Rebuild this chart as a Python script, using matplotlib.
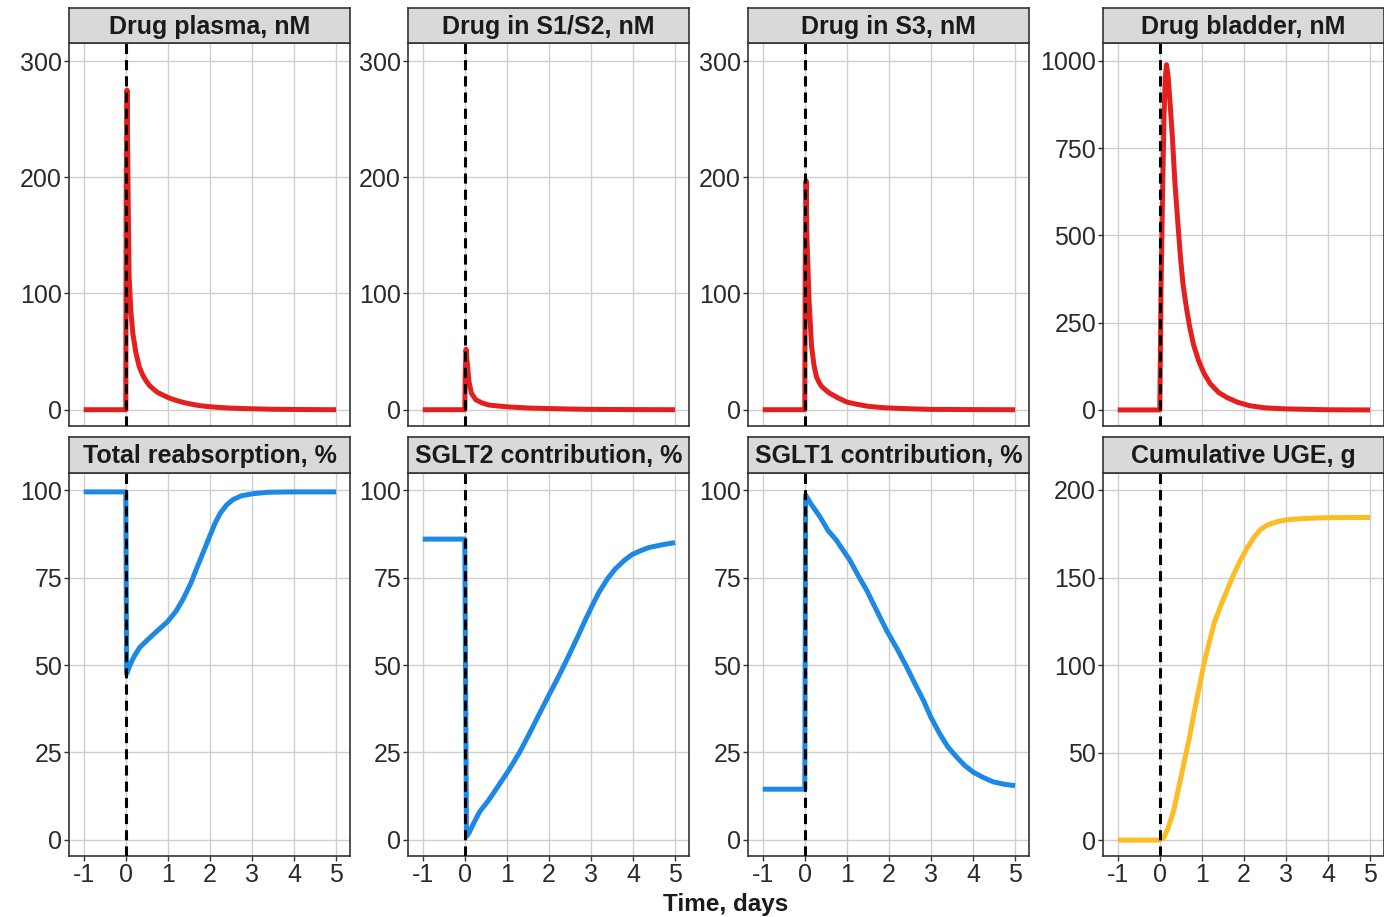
import matplotlib
matplotlib.use('Agg')
import matplotlib.pyplot as plt

plt.rcParams['font.family'] = ['Liberation Sans', 'DejaVu Sans']
plt.rcParams['axes.unicode_minus'] = False

# --- data (time in days) ---
t_plasma = [-1, 0, 0.01, 0.03, 0.06, 0.08, 0.12, 0.17, 0.24, 0.32, 0.4, 0.48, 0.56, 0.65, 0.75, 0.9, 1.04, 1.2,
            1.4, 1.6, 1.76, 2.0, 2.2, 2.5, 2.8, 3.5, 4.2, 5]
plasma = [0, 0, 190, 275, 170, 114, 85, 65, 49, 37, 30, 25, 21, 18, 15, 12.3, 10, 8, 6, 4.5, 3.5, 2.6, 2, 1.4,
          1, 0.4, 0.15, 0]

t_s12 = [-1, 0, 0.01, 0.03, 0.06, 0.1, 0.16, 0.26, 0.4, 0.58, 0.8, 1.0, 1.25, 1.5, 2.0, 2.5, 3.0, 4, 5]
s12 = [0, 0, 30, 52, 40, 24, 14, 8.6, 6, 4, 3.2, 2.5, 2, 1.5, 1, 0.6, 0.3, 0.1, 0]

t_s3 = [-1, 0, 0.01, 0.03, 0.05, 0.1, 0.16, 0.22, 0.28, 0.34, 0.4, 0.5, 0.6, 0.8, 1.0, 1.25, 1.5, 1.75, 2.0,
        2.5, 3.0, 4, 5]
s3 = [0, 0, 120, 197, 150, 95, 55, 38, 28, 23.5, 20, 16.8, 14, 10, 6.6, 4.6, 3, 2.1, 1.5, 0.8, 0.3, 0.1, 0]

t_bladder = [-1, 0, 0.03, 0.07, 0.1, 0.13, 0.16, 0.2, 0.25, 0.3, 0.36, 0.43, 0.49, 0.55, 0.63, 0.71, 0.8, 0.92,
             1.05, 1.2, 1.4, 1.59, 1.85, 2.14, 2.5, 3.0, 4, 5]
bladder = [0, 0, 350, 650, 840, 950, 989, 955, 870, 780, 650, 535, 440, 362, 295, 238, 188, 142, 105, 75, 50,
           36, 22, 12, 6, 3, 0.5, 0]

t_reabs = [-1, 0, 0.02, 0.1, 0.2, 0.33, 0.5, 0.65, 0.8, 1.0, 1.2, 1.37, 1.55, 1.68, 1.85, 2.0, 2.12, 2.24, 2.4,
           2.55, 2.75, 3.03, 3.4, 4, 5]
reabs = [99.5, 99.5, 47.5, 50, 52.5, 55, 57, 58.7, 60.3, 62.5, 65.5, 69, 73.5, 77.5, 82.5, 87, 90.5, 93.3, 95.8,
         97.3, 98.4, 99, 99.4, 99.5, 99.5]

t_sglt2 = [-1, 0, 0.04, 0.1, 0.2, 0.35, 0.57, 0.8, 1.05, 1.3, 1.52, 1.75, 2.0, 2.25, 2.48, 2.7, 2.87, 3.05, 3.19,
           3.4, 3.58, 3.8, 3.98, 4.2, 4.38, 4.7, 5]
sglt2 = [86, 86, 1, 2, 4.5, 8, 11.4, 15.5, 20, 25, 30, 35.5, 41.4, 47.2, 52.9, 58.5, 63, 67.5, 70.8, 74.8, 77.5,
         80, 81.6, 82.8, 83.6, 84.4, 85]

t_sglt1 = [-1, 0, 0.02, 0.15, 0.36, 0.55, 0.75, 0.9, 1.07, 1.25, 1.47, 1.7, 1.94, 2.2, 2.42, 2.62, 2.82, 3.0,
           3.21, 3.4, 3.61, 3.8, 4.0, 4.25, 4.48, 4.75, 5]
sglt1 = [14.5, 14.5, 98.6, 96, 92.4, 88.5, 85.7, 83, 80, 76, 71.4, 65.8, 60, 54.5, 49.5, 44.6, 39.9, 35, 30.3,
         26.6, 23.7, 21.3, 19.4, 17.8, 16.6, 15.9, 15.5]

t_uge = [-1, 0, 0.1, 0.2, 0.33, 0.45, 0.57, 0.7, 0.81, 0.93, 1.05, 1.17, 1.29, 1.45, 1.6, 1.75, 1.92, 2.08, 2.24,
         2.4, 2.56, 2.8, 3.03, 3.5, 3.98, 5]
uge = [0, 0, 1.5, 7, 16.8, 30, 43.5, 58, 72, 86.5, 100.8, 112.5, 123.7, 134, 142.7, 151.5, 160, 167, 173, 177.5,
       180, 182, 183, 183.8, 184.2, 184.3]

titles = ['Drug plasma, nM', 'Drug in S1/S2, nM', 'Drug in S3, nM', 'Drug bladder, nM',
          'Total reabsorption, %', 'SGLT2 contribution, %', 'SGLT1 contribution, %', 'Cumulative UGE, g']
series = [(t_plasma, plasma), (t_s12, s12), (t_s3, s3), (t_bladder, bladder),
          (t_reabs, reabs), (t_sglt2, sglt2), (t_sglt1, sglt1), (t_uge, uge)]
colors = ['#E3201E'] * 4 + ['#1E88E5'] * 3 + ['#FBBC26']
yticks = [[0, 100, 200, 300]] * 3 + [[0, 250, 500, 750, 1000]] + [[0, 25, 50, 75, 100]] * 3 + [[0, 50, 100, 150, 200]]
ylims = [(-14, 315.5)] * 3 + [(-46, 1051)] + [(-4.6, 104.9)] * 3 + [(-9.1, 209.7)]
xticks = [-1, 0, 1, 2, 3, 4, 5]

W, H = 1384, 917
fig = plt.figure(figsize=(W / 100, H / 100), dpi=100)

col_left = [69, 408, 748, 1103]
pw = 281
rows = [(8, 43, 426), (437, 473, 856)]  # strip top, panel top, panel bottom
edge = '#333333'

for i in range(8):
    r, c = divmod(i, 4)
    st, pt, pb = rows[r]
    x0 = col_left[c]
    ax = fig.add_axes([x0 / W, 1 - pb / H, pw / W, (pb - pt) / H])
    t, v = series[i]
    ax.plot(t, v, color=colors[i], lw=3.6, solid_joinstyle='round', solid_capstyle='butt', zorder=3)
    ax.axvline(0, color='black', lw=2.2, ls=(0, (3.3, 2.0)), zorder=4)
    ax.set_xlim(-1.35, 5.33)
    ax.set_ylim(*ylims[i])
    ax.set_xticks(xticks)
    ax.set_yticks(yticks[i])
    ax.grid(True, color='#CFCFCF', lw=1.0, zorder=0)
    ax.set_axisbelow(True)
    for s in ax.spines.values():
        s.set_color(edge)
        s.set_linewidth(1.2)
    ax.tick_params(axis='both', labelsize=18, colors=edge, labelcolor='#2b2b2b', length=3.5, width=1.0, pad=1.5)
    if r == 0:
        ax.tick_params(axis='x', length=0, labelbottom=False)

    sax = fig.add_axes([x0 / W, 1 - pt / H, pw / W, (pt - st) / H])
    sax.set_facecolor('#D9D9D9')
    sax.set_xticks([])
    sax.set_yticks([])
    for s in sax.spines.values():
        s.set_color(edge)
        s.set_linewidth(1.2)
    sax.text(0.5, 0.47, titles[i], transform=sax.transAxes, ha='center', va='center',
             fontsize=18, fontweight='bold', color='#1a1a1a')

fig.text(726 / W, 1 - 905 / H, 'Time, days', ha='center', va='center', fontsize=17.5, fontweight='bold', color='#1a1a1a')

fig.savefig('out.png', dpi=100)
